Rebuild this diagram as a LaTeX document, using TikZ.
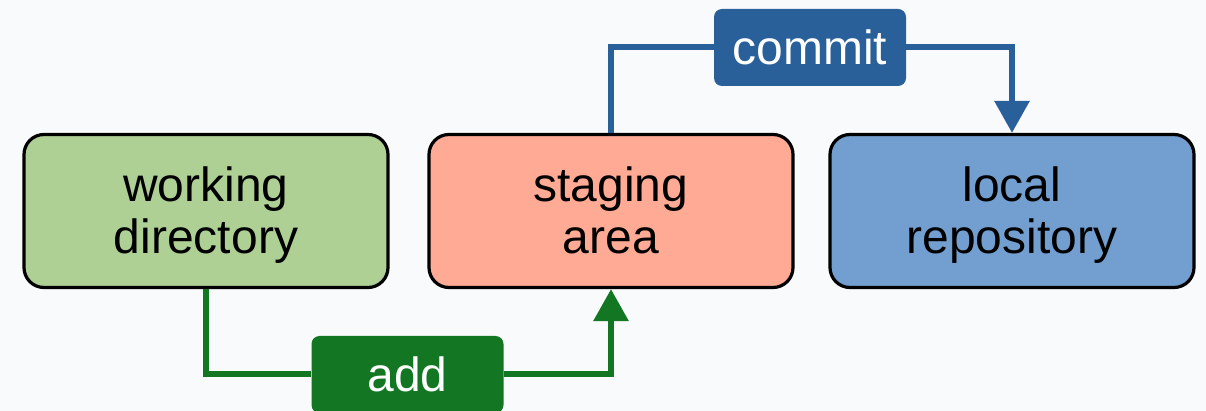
\documentclass[tikz,border=0pt]{standalone}
\usepackage{fontspec}
\setmainfont{Liberation Sans}
\usetikzlibrary{arrows.meta,positioning}

\definecolor{wdgreen}{HTML}{AFD095}
\definecolor{stsalmon}{HTML}{FFAA95}
\definecolor{lrblue}{HTML}{729FCF}
\definecolor{addgreen}{HTML}{127622}
\definecolor{commitblue}{HTML}{2A6099}
\definecolor{paper}{HTML}{F9FAFC}

\tikzset{
	area/.style={draw=black,line width=1.6pt,rounded corners=10pt,minimum width=182pt,minimum height=76.5pt,
		align=center,text height=50pt,text depth=7pt,font=\fontsize{24}{26}\selectfont},
	cmd/.style={fill=#1,text=white,rounded corners=4pt,minimum width=96pt,minimum height=38.5pt,
		font=\fontsize{24}{26}\selectfont},
	wire/.style={draw=#1,line width=3pt},
	flow/.style={wire=#1,-{Triangle[width=17pt,length=16pt]}}
}

\begin{document}
\begin{tikzpicture}[x=0.5pt,y=-0.5pt]
	\fill[paper] (0,0) rectangle (1206,411);
	\useasboundingbox (0,0) rectangle (1206,411);

	\node[area,fill=wdgreen]	(working)	at (206,211)	{working\\directory};
	\node[area,fill=stsalmon]	(staging)	at (611,211)	{staging\\area};
	\node[area,fill=lrblue]		(local)		at (1012,211)	{local\\repository};

	\node[cmd=commitblue]		(commit)	at (810,47.5)	{commit};
	\node[cmd=addgreen]			(add)		at (407.5,374.5)	{add};

	\draw[wire=commitblue]	(staging.north) |- (commit.west);
	\draw[flow=commitblue]	(commit.east) -| (local.north);
	\draw[wire=addgreen]	(working.south) |- (add.west);
	\draw[flow=addgreen]	(add.east) -| (staging.south);
\end{tikzpicture}
\end{document}
